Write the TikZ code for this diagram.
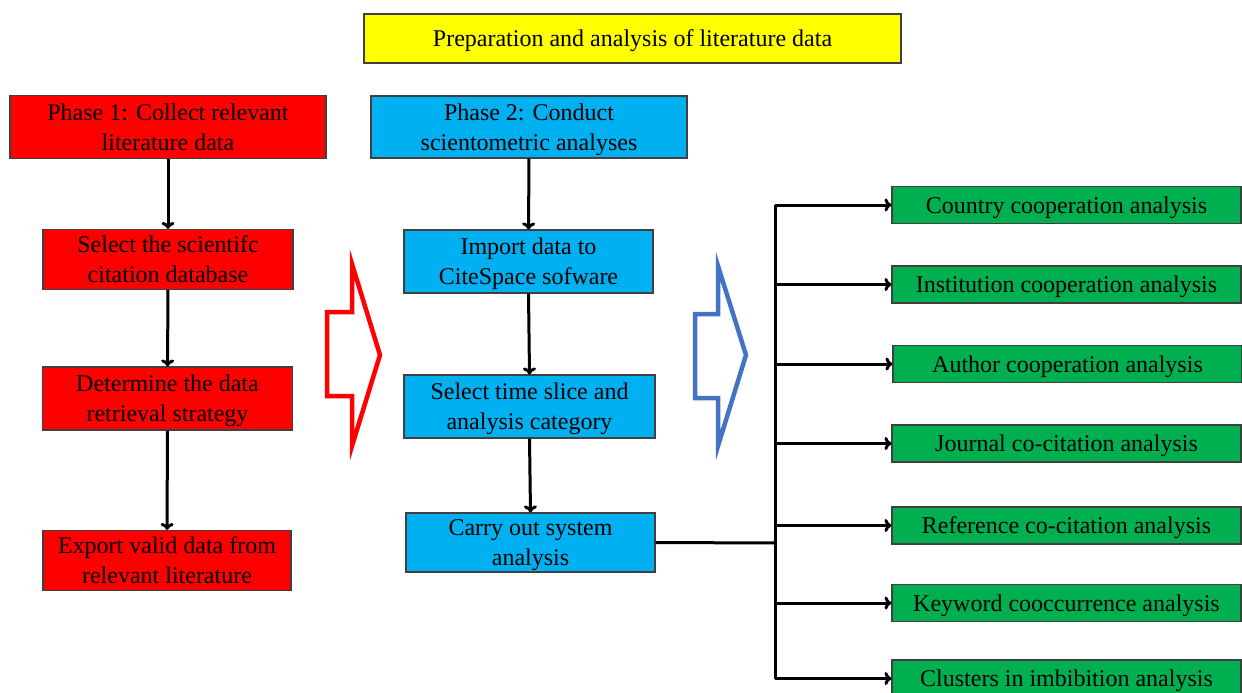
\documentclass[tikz,border=0pt]{standalone}
\usepackage{fontspec}
\setmainfont{Liberation Serif}
\usetikzlibrary{arrows.meta}
\definecolor{boxred}{HTML}{FF0000}
\definecolor{boxblue}{HTML}{00B0F0}
\definecolor{boxgreen}{HTML}{00B050}
\definecolor{boxyellow}{HTML}{FFFF00}
\definecolor{edgegray}{HTML}{404040}
\definecolor{arrowblue}{HTML}{4472C4}
\begin{document}
\begin{tikzpicture}[x=1pt,y=-1pt,
  box/.style={draw=edgegray,line width=1.2pt,inner sep=0pt,align=center,
    text depth=0pt,font=\fontsize{24}{30}\selectfont,text=black},
  redbox/.style={box,fill=boxred,minimum width=250pt,minimum height=60pt},
  bluebox/.style={box,fill=boxblue,minimum width=250pt,minimum height=62pt},
  greenbox/.style={box,fill=boxgreen,minimum width=349pt,minimum height=37pt},
  flow/.style={draw=black,line width=3pt,-{To[length=7pt,width=13pt]}},
  link/.style={draw=black,line width=3pt},
  hollow/.style={line width=4.5pt,line join=miter,fill=white}]
\useasboundingbox (0,0) rectangle (1242,693);

% title
\node[box,fill=boxyellow,minimum width=537pt,minimum height=49pt] (title) at (632.5,38.5)
  {Preparation and analysis of literature data};

% phase 1 column
\node[redbox,minimum width=316pt,minimum height=63pt] (p1) at (168,127)
  {Phase 1: Collect relevant\\literature data};
\node[redbox] (r2) at (168,259.5) {Select the scientifc\\citation database};
\node[redbox,minimum height=63pt] (r3) at (167.5,398.5) {Determine the data\\retrieval strategy};
\node[redbox,minimum width=248pt] (r4) at (167,560.5) {Export valid data from\\relevant literature};

% phase 2 column
\node[bluebox,minimum width=316pt] (p2) at (529,127)
  {Phase 2: Conduct\\scientometric analyses};
\node[bluebox,minimum width=249pt,minimum height=63pt] (b2) at (528.5,261.5) {Import data to\\CiteSpace sofware};
\node[bluebox,minimum width=251pt,minimum height=63pt] (b3) at (529.5,406.5) {Select time slice and\\analysis category};
\node[bluebox,minimum width=249pt,minimum height=59pt] (b4) at (530.5,542.5) {Carry out system\\analysis};

% analysis results
\node[greenbox] (g1) at (1066.5,205) {Country cooperation analysis};
\node[greenbox] (g2) at (1066.5,284.5) {Institution cooperation analysis};
\node[greenbox] (g3) at (1067.5,364) {Author cooperation analysis};
\node[greenbox] (g4) at (1066.5,443.5) {Journal co-citation analysis};
\node[greenbox] (g5) at (1066.5,525.5) {Reference co-citation analysis};
\node[greenbox] (g6) at (1066.5,603) {Keyword cooccurrence analysis};
\node[greenbox] (g7) at (1066.5,678.5) {Clusters in imbibition analysis};

% vertical flow
\draw[flow] (p1) -- (r2);
\draw[flow] (r2) -- (r3);
\draw[flow] (r3) -- (r4);
\draw[flow] (p2) -- (b2);
\draw[flow] (b2.south) -- (b3.north);
\draw[flow] (b3.south) -- (b4.north);

% distribution trunk
\coordinate (trunk) at (775,543);
\draw[link] (b4.east) -- (trunk);
\draw[link] (trunk |- g1.west) -- (trunk |- g7.west);
\foreach \g in {g1,g2,g3,g4,g5,g6,g7}
  \draw[flow] (trunk |- \g.west) -- (\g.west);

% hollow block arrows between phases
\draw[hollow,draw=boxred] (327,312) -- (352,312) -- (352,264) -- (380,355)
  -- (352,446) -- (352,396) -- (327,396) -- cycle;
\draw[hollow,draw=arrowblue] (695,314) -- (718,314) -- (718,266) -- (746,355)
  -- (718,446) -- (718,398) -- (695,398) -- cycle;
\end{tikzpicture}
\end{document}
